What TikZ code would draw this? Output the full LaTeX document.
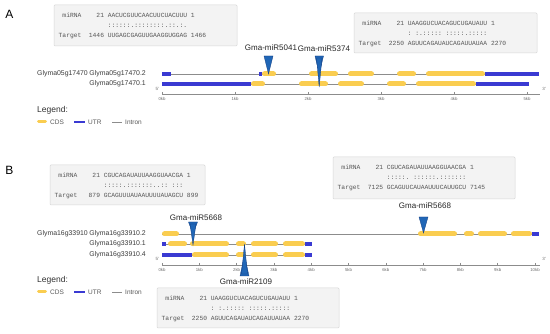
\documentclass[tikz,border=0pt]{standalone}
\usepackage{fontspec}
\setmainfont{Liberation Sans}
\newfontfamily\monofam[WordSpace={1,0,0}]{Liberation Mono}
\definecolor{cdsc}{RGB}{250,205,80}
\definecolor{utrc}{RGB}{58,58,210}
\definecolor{intc}{RGB}{140,140,140}
\definecolor{trib}{RGB}{32,102,182}
\definecolor{tribd}{RGB}{20,62,130}
\definecolor{boxf}{RGB}{243,243,243}
\definecolor{boxd}{RGB}{215,215,215}
\definecolor{seqc}{RGB}{85,85,85}
\definecolor{labc}{RGB}{60,60,60}
\definecolor{tickc}{RGB}{110,110,110}
\tikzset{
 cds/.style={draw=cdsc, line width=5pt, line cap=round},
 utr/.style={draw=utrc, line width=3.2pt},
 intron/.style={draw=intc, line width=0.7pt},
 axisline/.style={draw=intc, line width=0.6pt},
 tri/.style={fill=trib, draw=tribd, line width=0.3pt},
 mirlabel/.style={font=\fontsize{8}{9}\selectfont, inner sep=0, text=black!85},
 genelab/.style={font=\fontsize{6.9}{8}\selectfont, text=labc, inner sep=0, anchor=east, text height=5pt, text depth=1.4pt},
 seqtxt/.style={font=\monofam\fontsize{6.3}{7}\selectfont, text=seqc, inner sep=0, anchor=west, text height=4.5pt, text depth=1.2pt},
 mbox/.style={fill=boxf, draw=boxd, line width=0.5pt, rounded corners=1pt},
 ticklab/.style={font=\fontsize{4.3}{5}\selectfont, text=tickc, inner sep=0},
 endlab/.style={font=\fontsize{4.5}{5}\selectfont, text=tickc, inner sep=0},
 panlab/.style={font=\fontsize{12}{13}\selectfont, inner sep=0},
 legtitle/.style={font=\fontsize{8.5}{10}\selectfont, text=black!80, inner sep=0, anchor=west},
 legtxt/.style={font=\fontsize{6.5}{8}\selectfont, text=black!65, inner sep=0, anchor=west},
}
\newcommand\Cds[3]{\draw[cds] ({#1+2.5},#3) -- ({#2-2.5},#3);}
\newcommand\Utr[3]{\draw[utr] (#1,#3) -- (#2,#3);}
\newcommand\Intr[3]{\draw[intron] (#1,#3) -- (#2,#3);}
\newcommand\MirBox[8]{%
 \draw[mbox] (#2,#3) rectangle (#4,#5);
 \node[seqtxt] (#1a) at ({#2+4.5},{#3+11}) {#6};
 \node[seqtxt] (#1b) at ({#2+4.5},{#3+20.5}) {#7};
 \node[seqtxt] (#1c) at ({#2+4.5},{#3+30.5}) {#8};}
\newcommand\Legend[3]{%
 \node[legtitle] (#1t) at (#2,#3) {Legend:};
 \draw[cds, line width=3pt] ({#2+1.5},{#3+12}) -- ({#2+8.5},{#3+12});
 \node[legtxt] (#1c) at ({#2+13},{#3+12}) {CDS};
 \draw[utr, line width=2.5pt] ({#2+37},{#3+12}) -- ({#2+48},{#3+12});
 \node[legtxt] (#1u) at ({#2+51},{#3+12}) {UTR};
 \draw[intron] ({#2+75},{#3+12}) -- ({#2+85},{#3+12});
 \node[legtxt] (#1i) at ({#2+88},{#3+12}) {Intron};}
\begin{document}
\begin{tikzpicture}[x=1pt,y=-1pt]
\useasboundingbox (0,0) rectangle (550,334);
\fill[white] (0,0) rectangle (550,334);

% ---------------- Panel A ----------------
\node[panlab] (labA) at (9.5,14) {A};
\MirBox{bxA}{54}{5}{237}{46}{~miRNA~~~~21~AACUCGUUCAACUUCUACUUU~1}{~~~~~~~~~~~~~::::::.::::::::.::.:.}{Target~~1446~UUGAGCGAGUUGAAGGUGGAG~1466}
\MirBox{bxB}{354}{13}{537}{53}{~miRNA~~~~21~UAAGGUCUACAGUCUGAUAUU~1}{~~~~~~~~~~~~~:~:.:::::~:::::.:::::}{Target~~2250~AGUUCAGAUAUCAGAUUAUAA~2270}

\node[genelab] (gA) at (88,74) {Glyma05g17470};
\node[genelab] (tA2) at (146,74) {Glyma05g17470.2};
\node[genelab] (tA1) at (146,84) {Glyma05g17470.1};

% transcript .2
\Intr{162}{539}{74}
\Utr{162}{171}{74}
\Utr{259}{261.5}{74}
\Cds{262}{276}{74}
\Cds{309}{338}{74}
\Cds{348}{374}{74}
\Cds{397}{416}{74}
\Cds{426}{485}{74}
\Utr{485}{539}{74}
% transcript .1
\Intr{162}{529}{84}
\Utr{162}{251}{84}
\Cds{251}{265}{84}
\Cds{299}{328}{84}
\Cds{338}{364}{84}
\Cds{387}{406}{84}
\Cds{416}{476}{84}
\Utr{476}{529}{84}

% axis A
\draw[axisline] (162,94) -- (540,94);
\foreach \k in {0,...,5}{
 \draw[axisline] ({162+73*\k},92) -- ({162+73*\k},94);
 \node[ticklab] (tkA\k) at ({162+73*\k},98.5) {\k kb};
}
\node[endlab] (fiveA) at (157.5,89) {5'};
\node[endlab] (threeA) at (544,89) {3'};

% markers A
\fill[tri] (264,56) -- (273,56) -- (268.5,74) -- cycle;
\fill[tri] (315,56) -- (323.5,56) -- (319.2,74) -- cycle;
\fill[tri] (316.5,58) -- (322,58) -- (319.2,87) -- cycle;
\node[mirlabel] (mA1) at (271,47.5) {Gma-miR5041};
\node[mirlabel] (mA2) at (324,49) {Gma-miR5374};

\Legend{lgA}{37}{110}

% ---------------- Panel B ----------------
\node[panlab] (labB) at (9.5,170) {B};
\MirBox{bxC}{50}{165}{205}{205}{~miRNA~~~~21~CGUCAGAUAUUAAGGUAACGA~1}{~~~~~~~~~~~~~:::::.:::::::..::~:::}{Target~~~879~GCAGUUUAUAAUUUUAUAGCU~899}
\MirBox{bxD}{333}{157}{515}{199}{~miRNA~~~~21~CGUCAGAUAUUAAGGUAACGA~1}{~~~~~~~~~~~~~:::::.~::::::.:::::::}{Target~~7125~GCAGUUCAUAAUUUCAUUGCU~7145}
\MirBox{bxE}{157}{288}{339}{328}{~miRNA~~~~21~UAAGGUCUACAGUCUGAUAUU~1}{~~~~~~~~~~~~~:~:.:::::~:::::.:::::}{Target~~2250~AGUUCAGAUAUCAGAUUAUAA~2270}

\node[genelab] (gB) at (88,234) {Glyma16g33910};
\node[genelab] (tB2) at (146,234) {Glyma16g33910.2};
\node[genelab] (tB1) at (146,244) {Glyma16g33910.1};
\node[genelab] (tB4) at (146,255) {Glyma16g33910.4};

% transcript .2
\Intr{162}{539}{234}
\Cds{162}{179}{234}
\Cds{418}{457}{234}
\Cds{464}{474}{234}
\Cds{478}{507}{234}
\Cds{511}{532}{234}
\Utr{532}{539}{234}
% transcript .1
\Intr{162}{312}{244}
\Utr{162}{166}{244}
\Cds{168}{187}{244}
\Cds{190}{229}{244}
\Cds{236}{246}{244}
\Cds{251}{278}{244}
\Cds{283}{305}{244}
\Utr{305}{312}{244}
% transcript .4
\Intr{162}{312}{255}
\Utr{162}{192}{255}
\Cds{192}{229}{255}
\Cds{236}{246}{255}
\Cds{251}{278}{255}
\Cds{283}{305}{255}
\Utr{305}{312}{255}

% axis B
\draw[axisline] (162,265) -- (540,265);
\foreach \k in {0,...,10}{
 \draw[axisline] ({162+37.3*\k},263) -- ({162+37.3*\k},265);
 \node[ticklab] (tkB\k) at ({162+37.3*\k},269.5) {\k kb};
}
\node[endlab] (fiveB) at (157.5,259) {5'};
\node[endlab] (threeB) at (544,259) {3'};

% markers B
\fill[tri] (188.5,222) -- (197.5,222) -- (193,234) -- cycle;
\fill[tri] (190,224) -- (196,224) -- (193,245) -- cycle;
\fill[tri] (419,217) -- (428,217) -- (423.5,233) -- cycle;
\fill[tri] (240,276) -- (249,276) -- (244.5,255) -- cycle;
\fill[tri] (241.5,274) -- (247.5,274) -- (244.5,244) -- cycle;
\node[mirlabel] (mB1) at (196,218) {Gma-miR5668};
\node[mirlabel] (mB2) at (425,206) {Gma-miR5668};
\node[mirlabel] (mB3) at (246,281.5) {Gma-miR2109};

\Legend{lgB}{37}{280}
\end{tikzpicture}
\end{document}
